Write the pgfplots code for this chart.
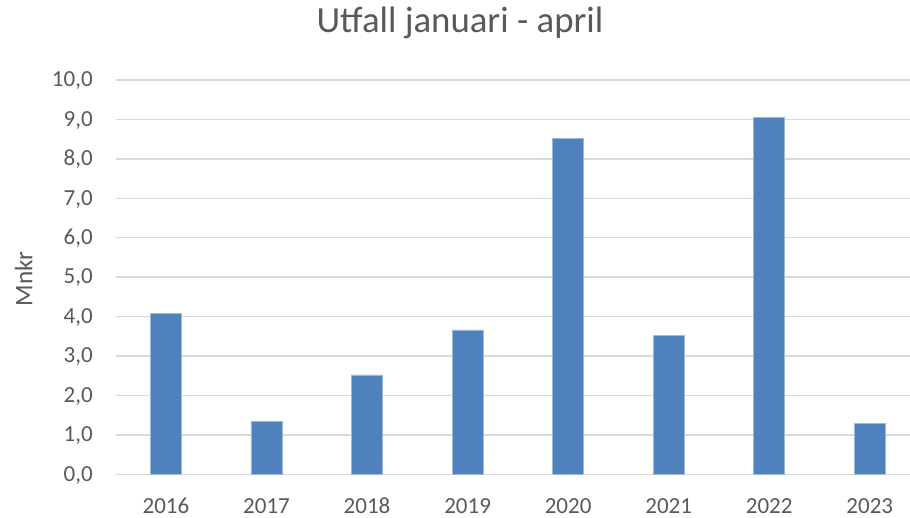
\documentclass[border=0pt]{standalone}
\usepackage{fontspec}
\setmainfont{Carlito}
\usepackage{pgfplots}
\pgfplotsset{compat=1.18}

\definecolor{barblue}{HTML}{4F81BD}
\definecolor{gridgray}{HTML}{D9D9D9}
\definecolor{textgray}{HTML}{595959}

\pgfplotstableread{
x year value
0 2016 4.07
1 2017 1.34
2 2018 2.52
3 2019 3.66
4 2020 8.51
5 2021 3.51
6 2022 9.04
7 2023 1.28
}\utfall

\begin{document}
\begin{tikzpicture}
% picture is 910 x 518 px, 1 px = 0.5pt
\path[use as bounding box] (0pt,0pt) rectangle (455pt,259pt);
\begin{axis}[
    at={(57.85pt,21.85pt)}, anchor=south west,
    width=397.15pt, height=197.15pt, scale only axis,
    xmin=-0.5, xmax=7.4,
    ymin=0, ymax=10,
    ytick={0,1,...,10},
    xtick=data,
    xticklabels={2016,2017,2018,2019,2020,2021,2022,2023},
    ymajorgrids,
    grid style={gridgray, line width=0.75pt},
    axis line style={draw=none},
    major tick length=0pt,
    clip=false,
    /pgf/number format/assume math mode=true,
    yticklabel={\pgfmathprintnumber[fixed,fixed zerofill,precision=1,use comma]{\tick}},
    ticklabel style={font=\fontsize{11.5}{13}\selectfont, text=textgray, inner sep=0pt},
    yticklabel style={anchor=base east, xshift=-11.3pt, yshift=-3.4pt},
    xticklabel style={anchor=base, yshift=-19.4pt},
    ybar, bar width=0.31,
]
\addplot[fill=barblue, draw=barblue!55!white, line width=0.4pt] table[x=x, y=value] {\utfall};
\end{axis}
\node[anchor=base, text=textgray, font=\fontsize{18.4}{22}\selectfont] at (230pt,242.85pt) {Utfall januari - april};
\node[anchor=base, rotate=90, text=textgray, font=\fontsize{12.6}{15}\selectfont] at (16.15pt,119.5pt) {Mnkr};
\end{tikzpicture}
\end{document}
